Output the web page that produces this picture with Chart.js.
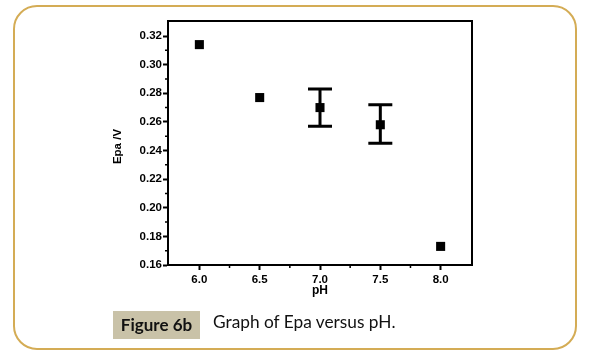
<!DOCTYPE html>
<html><head><meta charset="utf-8">
<script src="https://cdn.jsdelivr.net/npm/chart.js@4/dist/chart.umd.min.js"></script>
<style>
html,body{margin:0;padding:0;background:#fff;}
#wrap{position:relative;width:590px;height:356px;overflow:hidden;background:#fff;}
#c{position:absolute;left:0;top:0;}
#frame{position:absolute;left:13px;top:5px;width:560px;height:341px;border:2px solid #d4ac55;border-radius:24px;pointer-events:none;}
#capbox{position:absolute;left:113px;top:311px;width:87px;height:28px;background:#c9c2a8;font:bold 17px Lato,"Open Sans",sans-serif;color:#111;line-height:28px;text-align:center;}
#captext{position:absolute;left:213px;top:311px;height:28px;line-height:28px;font:17.3px Lato,"Open Sans",sans-serif;color:#111;white-space:nowrap;}
</style></head>
<body>
<div id="wrap">
<canvas id="c" width="590" height="356"></canvas>
<div id="frame"></div>
<div id="capbox">Figure 6b</div>
<div id="captext">Graph of Epa versus pH.</div>
</div>
<script>
// Data
const phValues = [6.0, 6.5, 7.0, 7.5, 8.0];
const epaValues = [0.314, 0.277, 0.270, 0.258, 0.173];
const epaUpper = [null, null, 0.283, 0.272, null];
const epaLower = [null, null, 0.257, 0.245, null];
const xTicks = [6.0, 6.5, 7.0, 7.5, 8.0];
const xMinorTicks = [5.75, 6.25, 6.75, 7.25, 7.75, 8.25];
const yTicks = [0.16, 0.18, 0.20, 0.22, 0.24, 0.26, 0.28, 0.30, 0.32];
const yMinorTicks = [0.17, 0.19, 0.21, 0.23, 0.25, 0.27, 0.29, 0.31];
const xTitle = 'pH';
const yTitle = 'Epa /V';

const tickFont = {family: '"Liberation Sans", Arial, sans-serif', size: 11.5, weight: 'bold'};

const extras = {
  id: 'extras',
  beforeDatasetsDraw(chart) {
    const ctx = chart.ctx, xs = chart.scales.x, ys = chart.scales.y;
    ctx.save();
    ctx.strokeStyle = '#000';
    ctx.lineWidth = 3;
    for (let i = 0; i < phValues.length; i++) {
      if (epaUpper[i] == null) continue;
      const x = xs.getPixelForValue(phValues[i]);
      const yu = ys.getPixelForValue(epaUpper[i]);
      const yl = ys.getPixelForValue(epaLower[i]);
      ctx.beginPath();
      ctx.moveTo(x, yu); ctx.lineTo(x, yl);
      ctx.moveTo(x - 12, yu); ctx.lineTo(x + 12, yu);
      ctx.moveTo(x - 12, yl); ctx.lineTo(x + 12, yl);
      ctx.stroke();
    }
    ctx.restore();
  },
  afterDraw(chart) {
    const ctx = chart.ctx, a = chart.chartArea, xs = chart.scales.x, ys = chart.scales.y;
    ctx.save();
    ctx.strokeStyle = '#000';
    ctx.lineWidth = 2;
    ctx.beginPath();
    ctx.moveTo(a.left - 1, a.top); ctx.lineTo(a.right, a.top); ctx.lineTo(a.right, a.bottom + 1);
    ctx.stroke();
    ctx.lineWidth = 1.5;
    ctx.beginPath();
    xMinorTicks.forEach(v => {
      const x = xs.getPixelForValue(v);
      if (x < a.left + 2 || x > a.right - 2) return;
      ctx.moveTo(x, a.bottom); ctx.lineTo(x, a.bottom + 3);
    });
    yMinorTicks.forEach(v => {
      const y = ys.getPixelForValue(v);
      ctx.moveTo(a.left, y); ctx.lineTo(a.left - 3, y);
    });
    ctx.stroke();
    ctx.fillStyle = '#000';
    ctx.font = 'bold 12px "Liberation Sans", Arial, sans-serif';
    ctx.textAlign = 'center';
    ctx.textBaseline = 'middle';
    ctx.fillText(xTitle, (a.left + a.right) / 2, 291);
    ctx.translate(118, 146.5);
    ctx.rotate(-Math.PI / 2);
    ctx.font = 'bold 11.5px "Liberation Sans", Arial, sans-serif';
    ctx.fillText(yTitle, 0, 0);
    ctx.restore();
  }
};

new Chart(document.getElementById('c'), {
  type: 'scatter',
  data: {
    datasets: [{
      data: phValues.map((x, i) => ({x: x, y: epaValues[i]})),
      pointStyle: 'rect',
      pointRadius: 6.4,
      pointHoverRadius: 6.4,
      backgroundColor: '#000',
      borderColor: '#000',
      borderWidth: 0,
      showLine: false
    }]
  },
  options: {
    responsive: false,
    animation: false,
    events: [],
    layout: {padding: {left: 0, top: 21, right: 118, bottom: 0}},
    plugins: {legend: {display: false}, tooltip: {enabled: false}},
    scales: {
      x: {
        type: 'linear', min: 5.74, max: 8.26,
        afterBuildTicks: s => { s.ticks = xTicks.map(v => ({value: v})); },
        afterFit: s => { s.height = 91; },
        ticks: {callback: v => v.toFixed(1), font: tickFont, color: '#000', padding: 3, maxRotation: 0, autoSkip: false},
        grid: {drawOnChartArea: false, tickLength: 5, tickColor: '#000', tickWidth: 2},
        border: {color: '#000', width: 2}
      },
      y: {
        type: 'linear', min: 0.16, max: 0.3305,
        afterBuildTicks: s => { s.ticks = yTicks.map(v => ({value: v})); },
        afterFit: s => { s.width = 168; },
        ticks: {callback: v => v.toFixed(2), font: tickFont, color: '#000', padding: 1, autoSkip: false},
        grid: {drawOnChartArea: false, tickLength: 5, tickColor: '#000', tickWidth: 2},
        border: {color: '#000', width: 2}
      }
    }
  },
  plugins: [extras]
});
</script>
</body></html>
